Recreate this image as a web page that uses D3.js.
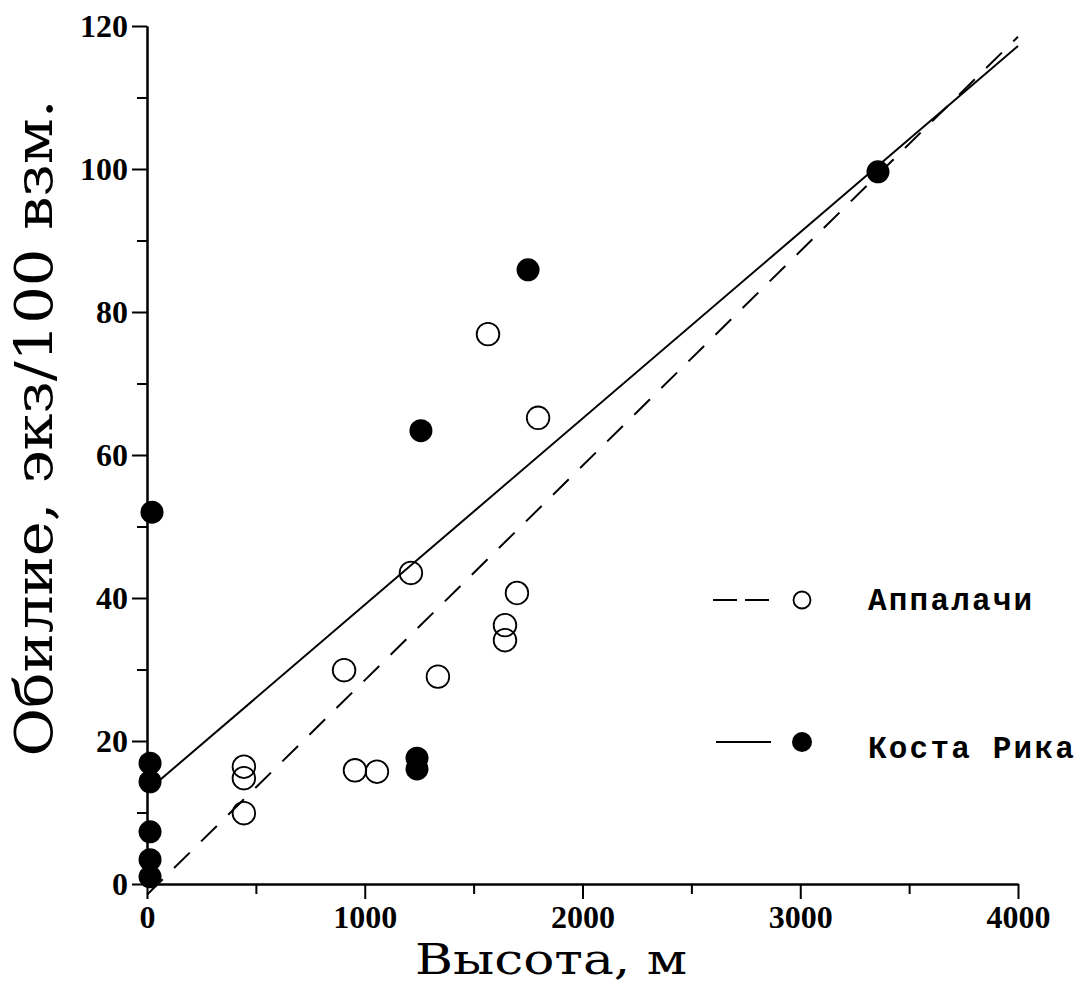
<!DOCTYPE html>
<html>
<head>
<meta charset="utf-8">
<script src="https://cdn.jsdelivr.net/npm/d3@7"></script>
<style>
  body { margin: 0; background: #fff; }
  svg { display: block; }
</style>
</head>
<body>
<div class="chart"></div>
<script>
(function(){
    // data
    const appalachX = [445, 445, 445, 955, 1056, 905, 1336, 1212, 1566, 1796, 1699, 1644, 1644];
    const appalachY = [9.9, 14.8, 16.4, 15.9, 15.7, 29.9, 29.0, 43.5, 76.9, 65.2, 40.7, 36.2, 34.1];
    const costaX = [23, 14, 14, 14, 14, 14, 1240, 1240, 1258, 1750, 3357];
    const costaY = [52.0, 16.9, 14.3, 7.3, 3.4, 1.0, 17.6, 16.1, 63.4, 85.9, 99.6];
    // regression lines, endpoints at x = 0 and 4000
    const lineX = [0, 4000];
    const appalachLineY = [-1.5, 118.5];
    const costaLineY = [13.0, 117.2];

    const xTicks = [0, 1000, 2000, 3000, 4000];
    const xMinor = [500, 1500, 2500, 3500];
    const yTicks = [0, 20, 40, 60, 80, 100, 120];
    const yMinor = [10, 30, 50, 70, 90, 110];

    const legendLabels = ["Аппалачи", "Коста Рика"];

    const svgWidth = 1085, svgHeight = 986;
    const margin = { top: 26, right: 67, bottom: 102, left: 147 };
    const width = svgWidth - margin.left - margin.right;
    const height = svgHeight - margin.top - margin.bottom;

    const svg = d3.select(".chart")
        .append("svg")
        .attr("width", svgWidth)
        .attr("height", svgHeight);

    const chartGroup = svg.append("g")
        .attr("transform", `translate(${margin.left}, ${margin.top})`);

    const x = d3.scaleLinear().domain([0, 4000]).range([0, width]);
    const y = d3.scaleLinear().domain([0, 120]).range([height, 0]);

    // axes
    const bottomAxis = d3.axisBottom(x).tickValues(xTicks).tickSize(15).tickSizeOuter(0)
        .tickPadding(6).tickFormat(d3.format("d"));
    const bottomMinor = d3.axisBottom(x).tickValues(xMinor).tickSize(10).tickSizeOuter(0).tickFormat("");
    const leftAxis = d3.axisLeft(y).tickValues(yTicks).tickSize(15).tickSizeOuter(0)
        .tickPadding(4).tickFormat(d3.format("d"));
    const leftMinor = d3.axisLeft(y).tickValues(yMinor).tickSize(10).tickSizeOuter(0).tickFormat("");

    const gx = chartGroup.append("g").attr("transform", `translate(0, ${height})`).call(bottomAxis);
    chartGroup.append("g").attr("transform", `translate(0, ${height})`).call(bottomMinor);
    const gy = chartGroup.append("g").call(leftAxis);
    chartGroup.append("g").call(leftMinor);

    chartGroup.selectAll(".domain, .tick line")
        .attr("stroke", "#000")
        .attr("stroke-width", 2);

    chartGroup.selectAll(".tick text")
        .attr("font-family", "Liberation Serif")
        .attr("font-weight", "bold")
        .attr("font-size", 32)
        .attr("fill", "#000");

    // regression lines
    const line = d3.line().x(d => x(d[0])).y(d => y(d[1]));

    chartGroup.append("path")
        .datum(lineX.map((v, i) => [v, appalachLineY[i]]))
        .attr("d", line)
        .attr("fill", "none")
        .attr("stroke", "#000")
        .attr("stroke-width", 2)
        .attr("stroke-dasharray", "22,16");

    chartGroup.append("path")
        .datum(lineX.map((v, i) => [v, costaLineY[i]]))
        .attr("d", line)
        .attr("fill", "none")
        .attr("stroke", "#000")
        .attr("stroke-width", 2);

    // points
    chartGroup.selectAll(".open")
        .data(appalachX.map((v, i) => [v, appalachY[i]]))
        .enter()
        .append("circle")
        .attr("class", "open")
        .attr("cx", d => x(d[0]))
        .attr("cy", d => y(d[1]))
        .attr("r", 11.3)
        .attr("fill", "none")
        .attr("stroke", "#000")
        .attr("stroke-width", 1.8);

    chartGroup.selectAll(".filled")
        .data(costaX.map((v, i) => [v, costaY[i]]))
        .enter()
        .append("circle")
        .attr("class", "filled")
        .attr("cx", d => x(d[0]))
        .attr("cy", d => y(d[1]))
        .attr("r", 11.5)
        .attr("fill", "#000");

    // axis titles
    svg.append("text")
        .attr("x", 551)
        .attr("y", 974)
        .attr("text-anchor", "middle")
        .attr("font-family", "DejaVu Serif")
        .attr("font-size", 42)
        .attr("textLength", 272)
        .attr("lengthAdjust", "spacingAndGlyphs")
        .text("Высота,  м");

    svg.append("text")
        .attr("transform", "translate(52, 428) rotate(-90)")
        .attr("text-anchor", "middle")
        .attr("font-family", "DejaVu Serif")
        .attr("font-size", 52)
        .attr("textLength", 657)
        .attr("lengthAdjust", "spacingAndGlyphs")
        .text("Обилие,  экз/100  взм.");

    // legend
    const legend = svg.append("g");
    legend.append("line")
        .attr("x1", 713).attr("x2", 771).attr("y1", 600).attr("y2", 600)
        .attr("stroke", "#000").attr("stroke-width", 2)
        .attr("stroke-dasharray", "24,8");
    legend.append("circle")
        .attr("cx", 802).attr("cy", 600).attr("r", 8.5)
        .attr("fill", "none").attr("stroke", "#000").attr("stroke-width", 1.8);
    legend.append("line")
        .attr("x1", 716).attr("x2", 771).attr("y1", 742).attr("y2", 742)
        .attr("stroke", "#000").attr("stroke-width", 2);
    legend.append("circle")
        .attr("cx", 802).attr("cy", 742).attr("r", 10)
        .attr("fill", "#000");

    legend.selectAll(".lab")
        .data(legendLabels)
        .enter()
        .append("text")
        .attr("class", "lab")
        .attr("x", 868)
        .attr("y", (d, i) => i === 0 ? 610 : 758)
        .attr("font-family", "Liberation Mono")
        .attr("font-weight", "bold")
        .attr("font-size", 31)
        .attr("letter-spacing", 2.2)
        .text(d => d);
})();
</script>
</body>
</html>
